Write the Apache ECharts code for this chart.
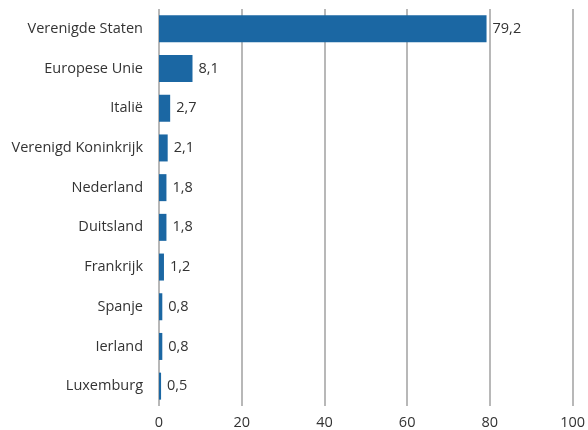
<!DOCTYPE html>
<html><head><meta charset="utf-8">
<script src="https://cdn.jsdelivr.net/npm/echarts@6/dist/echarts.min.js"></script>
<style>html,body{margin:0;padding:0;background:#fff}#c{width:588px;height:430px}</style>
</head><body><div id="c"></div>
<script>
const categories = ["Verenigde Staten","Europese Unie","Italië","Verenigd Koninkrijk","Nederland","Duitsland","Frankrijk","Spanje","Ierland","Luxemburg"];
const values = [79.2, 8.1, 2.7, 2.1, 1.8, 1.8, 1.2, 0.8, 0.8, 0.5];
const xTicks = [0, 20, 40, 60, 80, 100];

const chart = echarts.init(document.getElementById('c'));
const font = '"Open Sans", sans-serif';
chart.setOption({
  animation: false,
  grid: {left: 159, right: 13, top: 9, bottom: 23, containLabel: false},
  xAxis: {
    type: 'value', min: xTicks[0], max: xTicks[xTicks.length-1], interval: 20,
    axisLine: {show: false}, axisTick: {show: false},
    splitLine: {show: true, lineStyle: {color: '#a0a0a0', width: 1.5}},
    axisLabel: {color: '#333', fontSize: 14.5, fontFamily: font, margin: 9}
  },
  yAxis: {
    type: 'category', data: categories, inverse: true,
    axisLine: {show: false}, axisTick: {show: false},
    axisLabel: {color: '#333', fontSize: 14.5, fontFamily: font, margin: 16}
  },
  series: [{
    type: 'bar', data: values, barWidth: '68%',
    itemStyle: {color: '#1b67a3'},
    label: {show: true, position: 'right', distance: 6, color: '#333', fontSize: 14.5, fontFamily: font,
      formatter: p => String(p.value).replace('.', ',')}
  }]
});
</script></body></html>
